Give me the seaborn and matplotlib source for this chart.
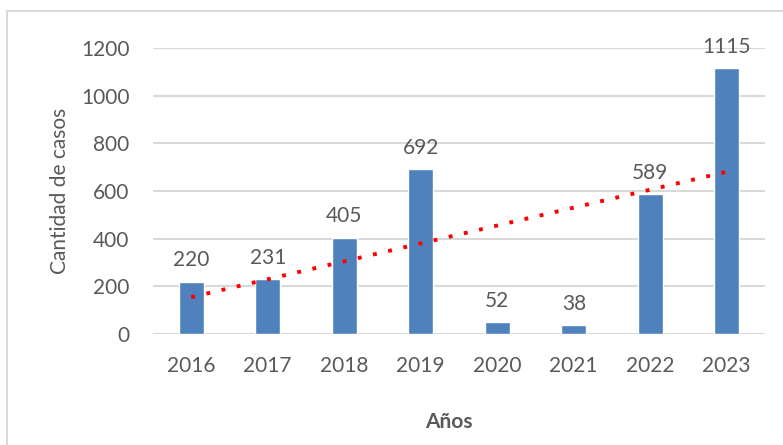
import numpy as np
import pandas as pd
import seaborn as sns
import matplotlib.pyplot as plt
from matplotlib.patches import Rectangle

# datos
years = ['2016', '2017', '2018', '2019', '2020', '2021', '2022', '2023']
cases = [220, 231, 405, 692, 52, 38, 589, 1115]
y_ticks = [0, 200, 400, 600, 800, 1000, 1200]

df = pd.DataFrame({'Años': years, 'Casos': cases, 'pos': np.arange(len(years))})

sns.set_theme(style='white')
plt.rcParams['font.family'] = ['Lato', 'DejaVu Sans']
text_col = '#595959'
fs = 15

fig = plt.figure(figsize=(7.83, 4.45), dpi=100)
ax = fig.add_axes([0.1954, 0.2494, 0.977 - 0.1954, 0.892 - 0.2494])

sns.barplot(data=df, x='Años', y='Casos', color='#4F81BD', width=0.33,
            saturation=1, ax=ax, zorder=2)
ax.bar_label(ax.containers[0], padding=8, fontsize=fs, color=text_col)

# línea de tendencia lineal (como en Excel)
sns.regplot(data=df, x='pos', y='Casos', scatter=False, ci=None, truncate=True,
            ax=ax, line_kws={'color': '#FF0000', 'lw': 2.8,
                             'linestyle': (0, (1, 3)), 'zorder': 3})

ax.set_xlim(-0.5, len(years) - 0.5)
ax.set_ylim(0, 1200)
ax.set_yticks(y_ticks)
ax.set_xticks(range(len(years)))
ax.set_xticklabels(years)
ax.yaxis.grid(True, color='#D9D9D9', lw=1.5, zorder=0)
ax.set_axisbelow(True)
for s in ax.spines.values():
    s.set_visible(False)
ax.tick_params(axis='both', length=0, labelsize=fs, labelcolor=text_col)
ax.tick_params(axis='y', pad=17)
ax.tick_params(axis='x', pad=16)

ax.set_ylabel('Cantidad de casos', fontsize=fs, color=text_col)
ax.yaxis.set_label_coords(-0.136, 0.5)
ax.set_xlabel('')
fig.text(0.573, 0.052, 'Años', ha='center', va='center', fontsize=fs,
         fontweight='bold', color=text_col)

# marco del área del gráfico
fig.patches.append(Rectangle((7 / 783, -0.1), 1.1, 1 - 11 / 445 + 0.1,
                             transform=fig.transFigure, fill=False,
                             edgecolor='#D9D9D9', lw=1.5, clip_on=False))

fig.savefig('out.png', dpi=100)
